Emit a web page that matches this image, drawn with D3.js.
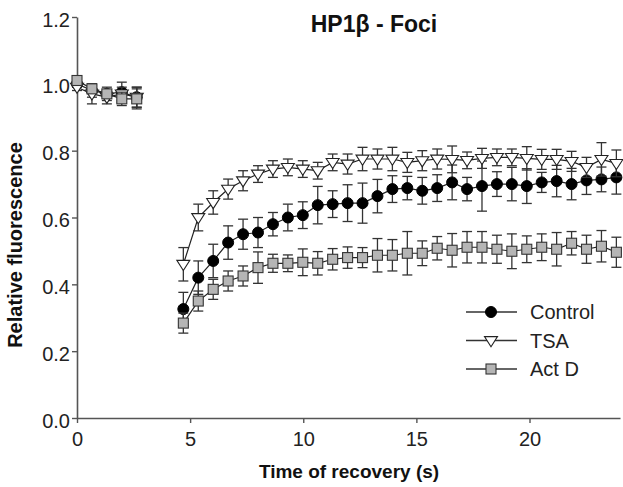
<!DOCTYPE html>
<html>
<head>
<meta charset="utf-8">
<script src="https://cdn.jsdelivr.net/npm/d3@7"></script>
<style>
  body { margin: 0; background: #fff; }
  text { font-family: Arial, "Liberation Sans", sans-serif; }
</style>
</head>
<body>
<svg id="chart" width="623" height="487"></svg>
<script>
// ---- data ----
var preTimes = [0, 0.66, 1.32, 1.98, 2.64];
var postTimes = [4.7, 5.36, 6.02, 6.68, 7.34, 8.0, 8.66, 9.32, 9.98, 10.64,
                 11.3, 11.96, 12.62, 13.28, 13.94, 14.6, 15.26, 15.92, 16.58, 17.24,
                 17.9, 18.56, 19.22, 19.88, 20.54, 21.2, 21.86, 22.52, 23.18, 23.84];

var controlPre = [1.00, 0.98, 0.97, 0.975, 0.96];
var controlPreErr = [0.01, 0.02, 0.02, 0.03, 0.03];
var tsaPre = [0.99, 0.97, 0.96, 0.97, 0.96];
var tsaPreErr = [0.01, 0.03, 0.02, 0.02, 0.03];
var actdPre = [1.01, 0.985, 0.97, 0.955, 0.955];
var actdPreErr = [0.01, 0.01, 0.01, 0.02, 0.03];

var controlPost = [0.326, 0.42, 0.47, 0.525, 0.55, 0.555, 0.58, 0.60, 0.607, 0.637,
                   0.64, 0.643, 0.643, 0.664, 0.685, 0.688, 0.68, 0.688, 0.705, 0.685,
                   0.694, 0.70, 0.70, 0.694, 0.705, 0.709, 0.70, 0.711, 0.714, 0.72];
var controlPostErr = [0.05, 0.05, 0.05, 0.05, 0.045, 0.045, 0.035, 0.04, 0.04, 0.056,
                      0.04, 0.055, 0.06, 0.05, 0.04, 0.035, 0.04, 0.04, 0.052, 0.035,
                      0.075, 0.037, 0.05, 0.052, 0.03, 0.047, 0.047, 0.042, 0.037, 0.05];
var tsaPost = [0.46, 0.60, 0.645, 0.685, 0.71, 0.73, 0.745, 0.75, 0.745, 0.74,
               0.765, 0.76, 0.775, 0.775, 0.775, 0.765, 0.77, 0.775, 0.774, 0.771,
               0.777, 0.78, 0.78, 0.777, 0.774, 0.774, 0.768, 0.75, 0.774, 0.762];
var tsaPostErr = [0.05, 0.04, 0.035, 0.03, 0.03, 0.025, 0.025, 0.025, 0.025, 0.025,
                  0.025, 0.03, 0.035, 0.03, 0.035, 0.03, 0.03, 0.03, 0.04, 0.025,
                  0.03, 0.025, 0.025, 0.035, 0.03, 0.03, 0.03, 0.03, 0.05, 0.04];
var actdPost = [0.284, 0.35, 0.385, 0.41, 0.425, 0.45, 0.463, 0.463, 0.466, 0.463,
                0.475, 0.48, 0.48, 0.487, 0.487, 0.493, 0.493, 0.508, 0.502, 0.511,
                0.511, 0.505, 0.499, 0.505, 0.511, 0.505, 0.523, 0.505, 0.514, 0.496];
var actdPostErr = [0.03, 0.03, 0.03, 0.03, 0.03, 0.047, 0.027, 0.025, 0.04, 0.035,
                   0.032, 0.032, 0.03, 0.05, 0.047, 0.065, 0.037, 0.035, 0.05, 0.047,
                   0.047, 0.042, 0.052, 0.04, 0.04, 0.05, 0.035, 0.042, 0.047, 0.045];

var xTicks = [0, 5, 10, 15, 20];
var yTicks = [0.0, 0.2, 0.4, 0.6, 0.8, 1.0, 1.2];

var series = [
  { name: "Control", shape: "circle", pre: controlPre, preErr: controlPreErr, post: controlPost, postErr: controlPostErr },
  { name: "TSA", shape: "triangle", pre: tsaPre, preErr: tsaPreErr, post: tsaPost, postErr: tsaPostErr },
  { name: "Act D", shape: "square", pre: actdPre, preErr: actdPreErr, post: actdPost, postErr: actdPostErr }
];

// ---- setup ----
var svg = d3.select("#chart");
var x = d3.scaleLinear().domain([0, 24]).range([77, 620]);
var y = d3.scaleLinear().domain([0, 1.2]).range([418, 17]);
var axisColor = "#555";

function toPoints(times, vals, errs) {
  return times.map((t, i) => ({ t: t, v: vals[i], e: errs[i] }));
}

function drawMarker(g, shape, cx, cy) {
  if (shape === "circle") {
    g.append("circle").attr("cx", cx).attr("cy", cy).attr("r", 5.5)
      .attr("fill", "#000").attr("stroke", "#000");
  } else if (shape === "triangle") {
    var s = 6.5;
    g.append("path")
      .attr("d", `M${cx - s},${cy - s * 0.6} L${cx + s},${cy - s * 0.6} L${cx},${cy + s * 0.95} Z`)
      .attr("fill", "#fff").attr("stroke", "#222").attr("stroke-width", 1.1);
  } else {
    g.append("rect").attr("x", cx - 5).attr("y", cy - 5).attr("width", 10).attr("height", 10)
      .attr("fill", "#b5b5b5").attr("stroke", "#333").attr("stroke-width", 1.1);
  }
}

// ---- axes ----
var yAxis = svg.append("g")
  .attr("transform", "translate(77,0)")
  .call(d3.axisLeft(y).tickValues(yTicks).tickFormat(d3.format(".1f")).tickSize(5).tickSizeOuter(0));
var xAxis = svg.append("g")
  .attr("transform", "translate(0,418)")
  .call(d3.axisBottom(x).tickValues(xTicks).tickSize(5).tickSizeOuter(0));

[xAxis, yAxis].forEach(function(a) {
  a.select(".domain").attr("stroke", axisColor).attr("stroke-width", 1.6);
  a.selectAll(".tick line").attr("stroke", axisColor).attr("stroke-width", 1.4);
  a.selectAll(".tick text").attr("fill", "#222").style("font-size", "20px")
    .style("font-family", "Arial, 'Liberation Sans', sans-serif");
});
yAxis.selectAll(".tick text").attr("x", -7).attr("dy", "0.45em");
xAxis.selectAll(".tick text").attr("y", 14);

// ---- series ----
var line = d3.line().x(d => x(d.t)).y(d => y(d.v));
var plot = svg.append("g");

series.forEach(function(s) {
  var g = plot.append("g");
  [toPoints(preTimes, s.pre, s.preErr), toPoints(postTimes, s.post, s.postErr)].forEach(function(pts) {
    pts.forEach(function(d) {
      var cx = x(d.t), y1 = y(d.v + d.e), y2 = y(d.v - d.e);
      g.append("line").attr("x1", cx).attr("x2", cx).attr("y1", y1).attr("y2", y2)
        .attr("stroke", "#333").attr("stroke-width", 1.3);
      [y1, y2].forEach(function(yy) {
        g.append("line").attr("x1", cx - 5).attr("x2", cx + 5).attr("y1", yy).attr("y2", yy)
          .attr("stroke", "#333").attr("stroke-width", 1.3);
      });
    });
    g.append("path").datum(pts).attr("d", line)
      .attr("fill", "none").attr("stroke", "#222").attr("stroke-width", 1.2);
    pts.forEach(d => drawMarker(g, s.shape, x(d.t), y(d.v)));
  });
});

// ---- legend ----
var legend = svg.append("g");
series.forEach(function(s, i) {
  var ly = 312 + i * 28.5;
  legend.append("line").attr("x1", 466).attr("x2", 517).attr("y1", ly).attr("y2", ly)
    .attr("stroke", "#333").attr("stroke-width", 1.3);
  drawMarker(legend, s.shape, 491, ly);
  legend.append("text").attr("x", 530).attr("y", ly).attr("dy", "0.36em")
    .style("font-size", "20px").attr("fill", "#222").text(s.name);
});

// ---- titles ----
svg.append("text").attr("x", 374).attr("y", 32).attr("text-anchor", "middle")
  .style("font-size", "23px").style("font-weight", "bold").attr("fill", "#111")
  .text("HP1β - Foci");
svg.append("text").attr("x", 349).attr("y", 478).attr("text-anchor", "middle")
  .style("font-size", "19px").style("font-weight", "bold").attr("fill", "#111")
  .text("Time of recovery (s)");
svg.append("text").attr("transform", "translate(22,245) rotate(-90)").attr("text-anchor", "middle")
  .style("font-size", "20px").style("font-weight", "bold").attr("fill", "#111")
  .text("Relative fluorescence");
</script>
</body>
</html>
